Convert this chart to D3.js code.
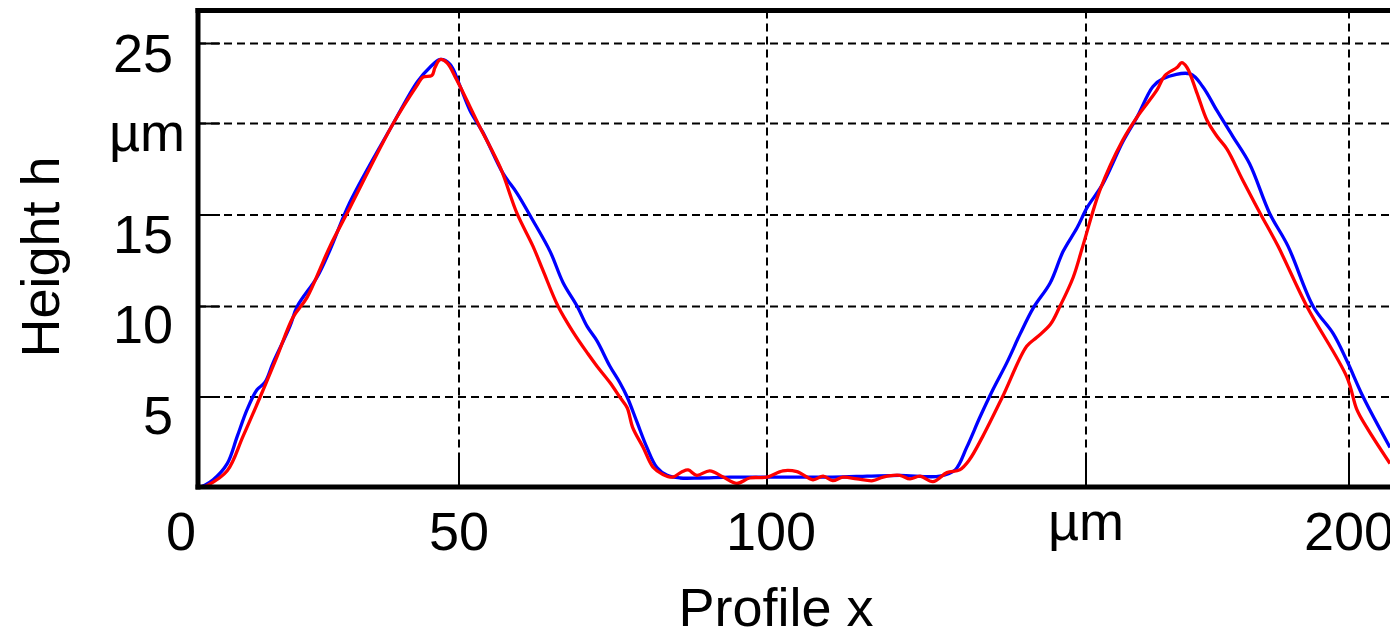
<!DOCTYPE html>
<html>
<head>
<meta charset="utf-8">
<script src="https://cdn.jsdelivr.net/npm/d3@7"></script>
<style>
  body { margin: 0; background: #fff; }
  text { font-family: "Liberation Sans", Arial, sans-serif; fill: #000; }
</style>
</head>
<body>
<svg width="1390" height="634"></svg>
<script>
// profile data (x in um, height in um)
var blueX = [0.4,1.3,2.9,5.6,7.5,9.4,11.3,12.8,14.4,17.6,19.0,22.8,25.3,29.1,37.4,42.0,44.4,46.4,48.3,50.2,
  51.8,53.9,57.1,59.4,62.0,64.8,66.9,69.2,70.8,72.4,74.5,76.1,77.3,78.9,80.5,82.1,83.8,85.9,89.1,94.0,
  100,105.2,110.3,115.7,120.8,127.1,129.5,131.3,133.4,135.4,137.6,139.7,141.7,144.4,146.4,148.6,150.2,153.2,157.0,159.7,
  162.7,164.6,169.8,172.2,174.9,177.9,181.1,184.9,188.4,193.2,197.0,199.6,202.7,207.8];
var blueH = [0,0.1,0.4,1.3,2.8,4.3,5.4,5.8,6.9,8.9,10.0,11.6,13.1,15.7,20.0,22.6,23.5,24.0,23.7,22.3,
  20.8,19.5,17.3,16.2,14.7,13.0,11.3,10.0,8.9,8.1,6.7,5.8,5.0,3.6,2.2,1.1,0.65,0.5,0.5,0.55,
  0.55,0.55,0.55,0.6,0.65,0.6,0.95,2.2,3.9,5.4,6.9,8.5,9.9,11.3,13.0,14.3,15.4,16.7,19.0,20.4,
  22.3,22.8,23.1,22.3,20.8,19.3,17.8,15.1,13.3,10.0,8.5,7.0,5.0,2.2];

var redX = [1.0,1.9,5.6,8.6,11.9,15.1,18.2,20.9,23.9,25.3,29.1,37.4,42.0,43.1,44.8,45.4,46.4,47.7,49.6,53.4,
  56.7,59.4,62.0,63.6,66.1,68.5,70.9,72.4,74.5,76.1,77.3,78.2,79.9,81.5,83.1,84.7,86.2,87.2,88.6,90.7,
  92.9,95.1,97.2,100,102.5,104.7,107.2,108.8,110.3,111.9,114.1,116.6,118.2,120.8,122.4,124.0,126.0,128.2,130.2,131.7,
  133.8,136.9,140.7,142.3,144.4,145.9,148.0,149.5,152.7,157.0,159.7,163.5,165.0,167.3,168.2,169.2,171.1,173.0,174.9,176.8,
  179.8,183.1,186.5,192.0,199.6,201.5,203.4,207.8];
var redH = [0,0.1,0.9,2.8,5.0,7.2,9.4,10.5,12.4,13.3,15.4,20.0,22.4,22.9,23.0,23.5,24.0,23.8,22.7,19.8,
  17.6,15.1,13.3,12.0,10.0,8.6,7.4,6.7,5.8,5.0,4.4,3.3,2.2,1.1,0.7,0.55,0.85,0.95,0.65,0.9,
  0.55,0.2,0.5,0.55,0.9,0.85,0.4,0.6,0.35,0.55,0.45,0.35,0.55,0.65,0.45,0.6,0.3,0.8,0.95,1.5,
  2.8,5.0,7.8,8.3,9.0,10.0,11.6,13.3,16.4,19.1,20.4,22.1,23.0,23.5,23.8,23.5,21.9,20.2,19.3,18.6,
  16.9,15.1,13.3,10.0,6.1,4.3,3.3,1.3];

var xTicks = [0, 50, 100, 150, 200];
var xTickLabels = ["0", "50", "100", "µm", "200"];
var yTicks = [5, 10, 15, 20, 25];
var yTickLabels = ["5", "10", "15", "µm", "25"];

var svg = d3.select("svg"),
    width = +svg.attr("width"),
    height = +svg.attr("height");

// the picture's grid is not evenly spaced, so piecewise scales
var x = d3.scaleLinear()
    .domain([0, 50, 100, 150, 200])
    .range([198, 459, 767, 1086, 1349]);
var y = d3.scaleLinear()
    .domain([0, 5, 10, 15, 20, 25])
    .range([487, 397, 306.5, 215, 123.5, 43.5]);
// tick labels sit on a slightly different, even spacing
var yLab = d3.scaleLinear().domain([5, 25]).range([434, 71.5]);

var plotLeft = x(0), plotBottom = y(0), plotTop = 10.5, plotRight = width + 10;

svg.append("clipPath").attr("id", "plot")
   .append("rect")
   .attr("x", plotLeft).attr("y", plotTop)
   .attr("width", plotRight - plotLeft).attr("height", plotBottom - plotTop);

// dashed grid
svg.append("g").selectAll("line")
   .data(xTicks.slice(1))
   .enter().append("line")
   .attr("x1", function(d) { return x(d); })
   .attr("x2", function(d) { return x(d); })
   .attr("y1", plotTop).attr("y2", plotBottom)
   .style("stroke", "black")
   .style("stroke-width", "2")
   .style("stroke-dasharray", "8,5");

svg.append("g").selectAll("line")
   .data(yTicks)
   .enter().append("line")
   .attr("x1", plotLeft).attr("x2", plotRight)
   .attr("y1", function(d) { return y(d); })
   .attr("y2", function(d) { return y(d); })
   .style("stroke", "black")
   .style("stroke-width", "2")
   .style("stroke-dasharray", "8,5");

// solid inner ticks
svg.append("g").selectAll("line")
   .data(xTicks.slice(1))
   .enter().append("line")
   .attr("x1", function(d) { return x(d); })
   .attr("x2", function(d) { return x(d); })
   .attr("y1", plotBottom - 28).attr("y2", plotBottom)
   .style("stroke", "black")
   .style("stroke-width", "2");

svg.append("g").selectAll("line")
   .data(yTicks)
   .enter().append("line")
   .attr("x1", plotLeft).attr("x2", plotLeft + 22)
   .attr("y1", function(d) { return y(d); })
   .attr("y2", function(d) { return y(d); })
   .style("stroke", "black")
   .style("stroke-width", "2");

// profiles
var line = d3.line()
    .curve(d3.curveCatmullRom.alpha(0.5))
    .x(function(d) { return x(d[0]); })
    .y(function(d) { return y(d[1]); });

var series = [
  { color: "#0000ff", pts: d3.zip(blueX, blueH) },
  { color: "#ff0000", pts: d3.zip(redX, redH) }
];

svg.append("g")
   .attr("clip-path", "url(#plot)")
   .selectAll("path")
   .data(series)
   .enter().append("path")
   .attr("d", function(d) { return line(d.pts); })
   .style("fill", "none")
   .style("stroke", function(d) { return d.color; })
   .style("stroke-width", "3.3")
   .style("stroke-linejoin", "round");

// frame
svg.append("line")
   .attr("x1", plotLeft).attr("y1", plotTop - 2.5)
   .attr("x2", plotLeft).attr("y2", plotBottom + 2.5)
   .style("stroke", "black").style("stroke-width", "5");
svg.append("line")
   .attr("x1", plotLeft - 2.5).attr("y1", plotBottom)
   .attr("x2", plotRight).attr("y2", plotBottom)
   .style("stroke", "black").style("stroke-width", "5");
svg.append("line")
   .attr("x1", plotLeft - 2.5).attr("y1", plotTop)
   .attr("x2", plotRight).attr("y2", plotTop)
   .style("stroke", "black").style("stroke-width", "5");

// tick labels
svg.append("g").selectAll("text")
   .data(xTicks)
   .enter().append("text")
   .attr("x", function(d, i) { return i == 0 ? x(d) - 2 : x(d) + (d == 100 ? 4 : 0); })
   .attr("y", function(d, i) { return xTickLabels[i] == "µm" ? 540 : 550; })
   .attr("text-anchor", function(d, i) { return i == 0 ? "end" : "middle"; })
   .style("font-size", "54px")
   .text(function(d, i) { return xTickLabels[i]; });

svg.append("g").selectAll("text")
   .data(yTicks)
   .enter().append("text")
   .attr("x", function(d, i) { return yTickLabels[i] == "µm" ? 109 : 173; })
   .attr("y", function(d, i) { return yTickLabels[i] == "µm" ? yLab(d) - 11 : yLab(d); })
   .attr("text-anchor", function(d, i) { return yTickLabels[i] == "µm" ? "start" : "end"; })
   .style("font-size", "54px")
   .text(function(d, i) { return yTickLabels[i]; });

// axis titles
svg.append("text")
   .attr("x", 776)
   .attr("y", 626)
   .attr("text-anchor", "middle")
   .style("font-size", "54px")
   .text("Profile x");

svg.append("text")
   .attr("transform", "translate(59,257) rotate(-90)")
   .attr("text-anchor", "middle")
   .style("font-size", "54px")
   .text("Height h");
</script>
</body>
</html>
